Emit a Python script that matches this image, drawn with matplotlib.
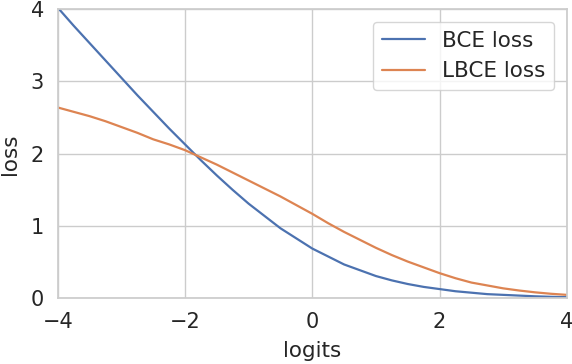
import matplotlib
matplotlib.use("Agg")
import matplotlib.pyplot as plt
import seaborn as sns

# values
logits = [-4, -3.75, -3.5, -3.25, -3, -2.75, -2.5, -2.25, -2, -1.75, -1.5, -1.25, -1, -0.75, -0.5, -0.25,
          0, 0.25, 0.5, 0.75, 1, 1.25, 1.5, 1.75, 2, 2.25, 2.5, 2.75, 3, 3.25, 3.5, 3.75, 4]
bce_loss = [4.02, 3.77, 3.53, 3.29, 3.05, 2.81, 2.58, 2.35, 2.13, 1.91, 1.70, 1.50, 1.31, 1.14, 0.97, 0.83,
            0.69, 0.58, 0.47, 0.39, 0.31, 0.25, 0.20, 0.16, 0.13, 0.10, 0.08, 0.06, 0.05, 0.04, 0.03, 0.023, 0.018]
lbce_loss = [2.64, 2.58, 2.52, 2.45, 2.37, 2.29, 2.20, 2.13, 2.05, 1.95, 1.85, 1.74, 1.63, 1.52, 1.41, 1.29,
             1.17, 1.04, 0.92, 0.81, 0.70, 0.60, 0.51, 0.43, 0.35, 0.28, 0.22, 0.18, 0.14, 0.11, 0.085, 0.065, 0.05]
xticks = [-4, -2, 0, 2, 4]
yticks = [0, 1, 2, 3, 4]

sns.set_theme(style="whitegrid")
plt.rcParams['font.family'] = ['DejaVu Sans']

fig, ax = plt.subplots(figsize=(5.72, 3.64), dpi=100)
ax.plot(logits, bce_loss, color='#4c72b0', lw=1.6, label='BCE loss')
ax.plot(logits, lbce_loss, color='#dd8452', lw=1.6, label='LBCE loss')

ax.set_xlim(-4, 4)
ax.set_ylim(0, 4)
ax.set_xticks(xticks)
ax.set_yticks(yticks)
ax.tick_params(labelsize=15, pad=4)
ax.set_xlabel('logits', fontsize=15.5, labelpad=6)
ax.set_ylabel('loss', fontsize=15.5, labelpad=8)
ax.legend(loc='upper right', fontsize=15.5, borderaxespad=0.6)

plt.subplots_adjust(left=0.101, right=0.991, top=0.975, bottom=0.18)
plt.savefig('out.png', dpi=100)
